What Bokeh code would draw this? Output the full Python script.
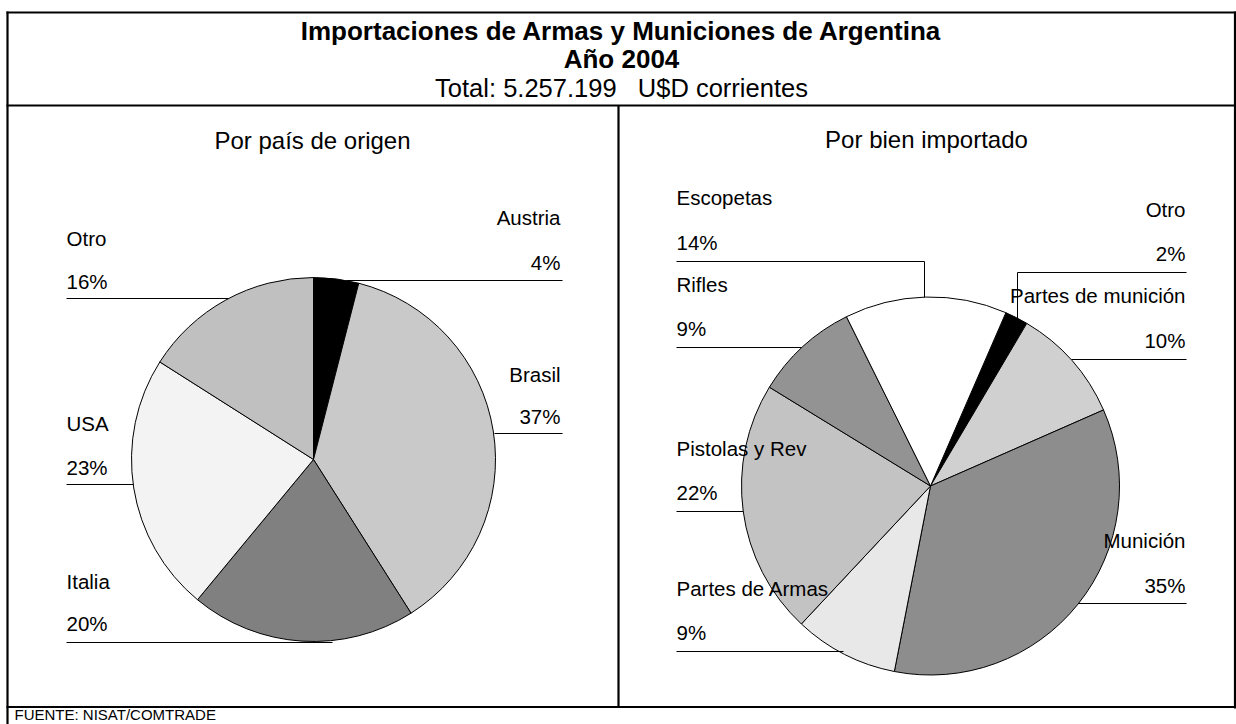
import math
from bokeh.plotting import figure
from bokeh.models import Range1d, ColumnDataSource
from bokeh.core.properties import value
from bokeh.embed import file_html
from bokeh.resources import INLINE

# ---------------- data ----------------
title_lines = ["Importaciones de Armas y Municiones de Argentina", "Año 2004",
               "Total: 5.257.199\u00a0\u00a0\u00a0U$D corrientes"]
source_note = "FUENTE: NISAT/COMTRADE"

country_title = "Por país de origen"
country_names = ["Austria", "Brasil", "Italia", "USA", "Otro"]
country_pct = [4, 37, 20, 23, 16]
country_colors = ["#000000", "#c9c9c9", "#808080", "#f3f3f3", "#c0c0c0"]

goods_title = "Por bien importado"
goods_names = ["Otro", "Partes de munición", "Munición", "Partes de Armas",
               "Pistolas y Rev", "Rifles", "Escopetas"]
goods_pct = [2, 10, 35, 9, 22, 9, 14]
goods_colors = ["#000000", "#d0d0d0", "#8d8d8d", "#e8e8e8", "#c3c3c3", "#939393", "#ffffff"]

# ---------------- layout (picture pixel coordinates) ----------------
FONT = value("Liberation Sans")
LBL = 20.5

left_pie = dict(cx=313, cy=459, r=182, start=0.0)
right_pie = dict(cx=930, cy=485.5, r=189, start=23.5)

# label layout: align, x, name_y, pct_y, leader polyline
left_labels = {
    "Austria": ("right", 560, 217, 262, [(562, 280), (346, 280)]),
    "Brasil": ("right", 560, 374, 416, [(562, 433), (494, 433)]),
    "Italia": ("left", 66, 581, 623, [(66, 642), (332, 642)]),
    "USA": ("left", 66, 423, 467, [(66, 484), (133, 484)]),
    "Otro": ("left", 66, 238, 281, [(66, 298), (228, 298)]),
}
right_labels = {
    "Escopetas": ("left", 676, 197, 242, [(676, 261), (924, 261), (924, 297)]),
    "Otro": ("right", 1185, 209, 253, [(1186, 272), (1017, 272), (1017, 318)]),
    "Rifles": ("left", 676, 284, 328, [(676, 347), (801, 347)]),
    "Partes de munición": ("right", 1185, 295, 340, [(1186, 359), (1071, 359)]),
    "Pistolas y Rev": ("left", 676, 448, 492, [(676, 511), (743, 511)]),
    "Partes de Armas": ("left", 676, 588, 632, [(676, 651), (843, 651)]),
    "Munición": ("right", 1185, 540, 585, [(1186, 603), (1078, 603)]),
}

W, H = 1236, 724
p = figure(width=W, height=H, output_backend="svg", toolbar_location=None,
           x_range=Range1d(0, W), y_range=Range1d(-H, 0),
           min_border=0, outline_line_color=None)
p.axis.visible = False
p.xgrid.visible = False
p.ygrid.visible = False
p.background_fill_color = "white"
p.border_fill_color = "white"


def Y(v):
    return -v


def base(center_y, size):
    # position giving the wanted visual centre of the text line
    return Y(center_y - 0.02 * size)


def draw_pie(names, pcts, colors, geo):
    total = float(sum(pcts))
    starts, ends = [], []
    acc = geo["start"]
    for v in pcts:
        a0 = acc
        a1 = acc + 360.0 * v / total
        acc = a1
        # clockwise from top -> standard angles
        starts.append(math.radians(90 - a1))
        ends.append(math.radians(90 - a0))
    src = ColumnDataSource(dict(name=names, start=starts, end=ends, color=colors))
    p.wedge(x=geo["cx"], y=Y(geo["cy"]), radius=geo["r"], start_angle="start",
            end_angle="end", direction="anticlock", fill_color="color",
            line_color="black", line_width=1, source=src)


def draw_labels(names, pcts, layout):
    for n, v in zip(names, pcts):
        align, x, ny, py, leader = layout[n]
        p.text(x=[x], y=[base(ny, LBL)], text=[n], text_font=FONT,
               text_font_size=f"{LBL}px", text_align=align,
               text_baseline="alphabetic", text_color="black")
        p.text(x=[x], y=[base(py, LBL)], text=[f"{v}%"], text_font=FONT,
               text_font_size=f"{LBL}px", text_align=align,
               text_baseline="alphabetic", text_color="black")
        p.line(x=[q[0] for q in leader], y=[Y(q[1]) for q in leader],
               line_color="black", line_width=1)


draw_pie(country_names, country_pct, country_colors, left_pie)
draw_pie(goods_names, goods_pct, goods_colors, right_pie)
draw_labels(country_names, country_pct, left_labels)
draw_labels(goods_names, goods_pct, right_labels)

# frame lines
frame = [
    ([6, 1236], [12, 12]),
    ([7, 7], [11, 724]),
    ([1234.5, 1234.5], [11, 708]),
    ([6, 1236], [105, 105]),
    ([618, 618], [105, 707]),
    ([6, 1236], [706.5, 706.5]),
]
for xs, ys in frame:
    p.line(x=xs, y=[Y(v) for v in ys], line_color="black", line_width=2.2)

# titles
p.text(x=[621], y=[base(31, 26)], text=[title_lines[0]], text_font=FONT,
       text_font_size="26px", text_font_style="bold", text_align="center",
       text_baseline="alphabetic")
p.text(x=[621], y=[base(59, 26)], text=[title_lines[1]], text_font=FONT,
       text_font_size="26px", text_font_style="bold", text_align="center",
       text_baseline="alphabetic")
p.text(x=[621], y=[base(88, 25.5)], text=[title_lines[2]], text_font=FONT,
       text_font_size="25.5px", text_align="center", text_baseline="alphabetic")

p.text(x=[312], y=[base(140, 24)], text=[country_title], text_font=FONT,
       text_font_size="24px", text_align="center", text_baseline="alphabetic")
p.text(x=[926], y=[base(139, 24)], text=[goods_title], text_font=FONT,
       text_font_size="24px", text_align="center", text_baseline="alphabetic")

p.text(x=[14], y=[base(714, 15)], text=[source_note], text_font=FONT,
       text_font_size="15px", text_align="left", text_baseline="alphabetic")

open("out.html", "w").write(file_html(p, INLINE))
